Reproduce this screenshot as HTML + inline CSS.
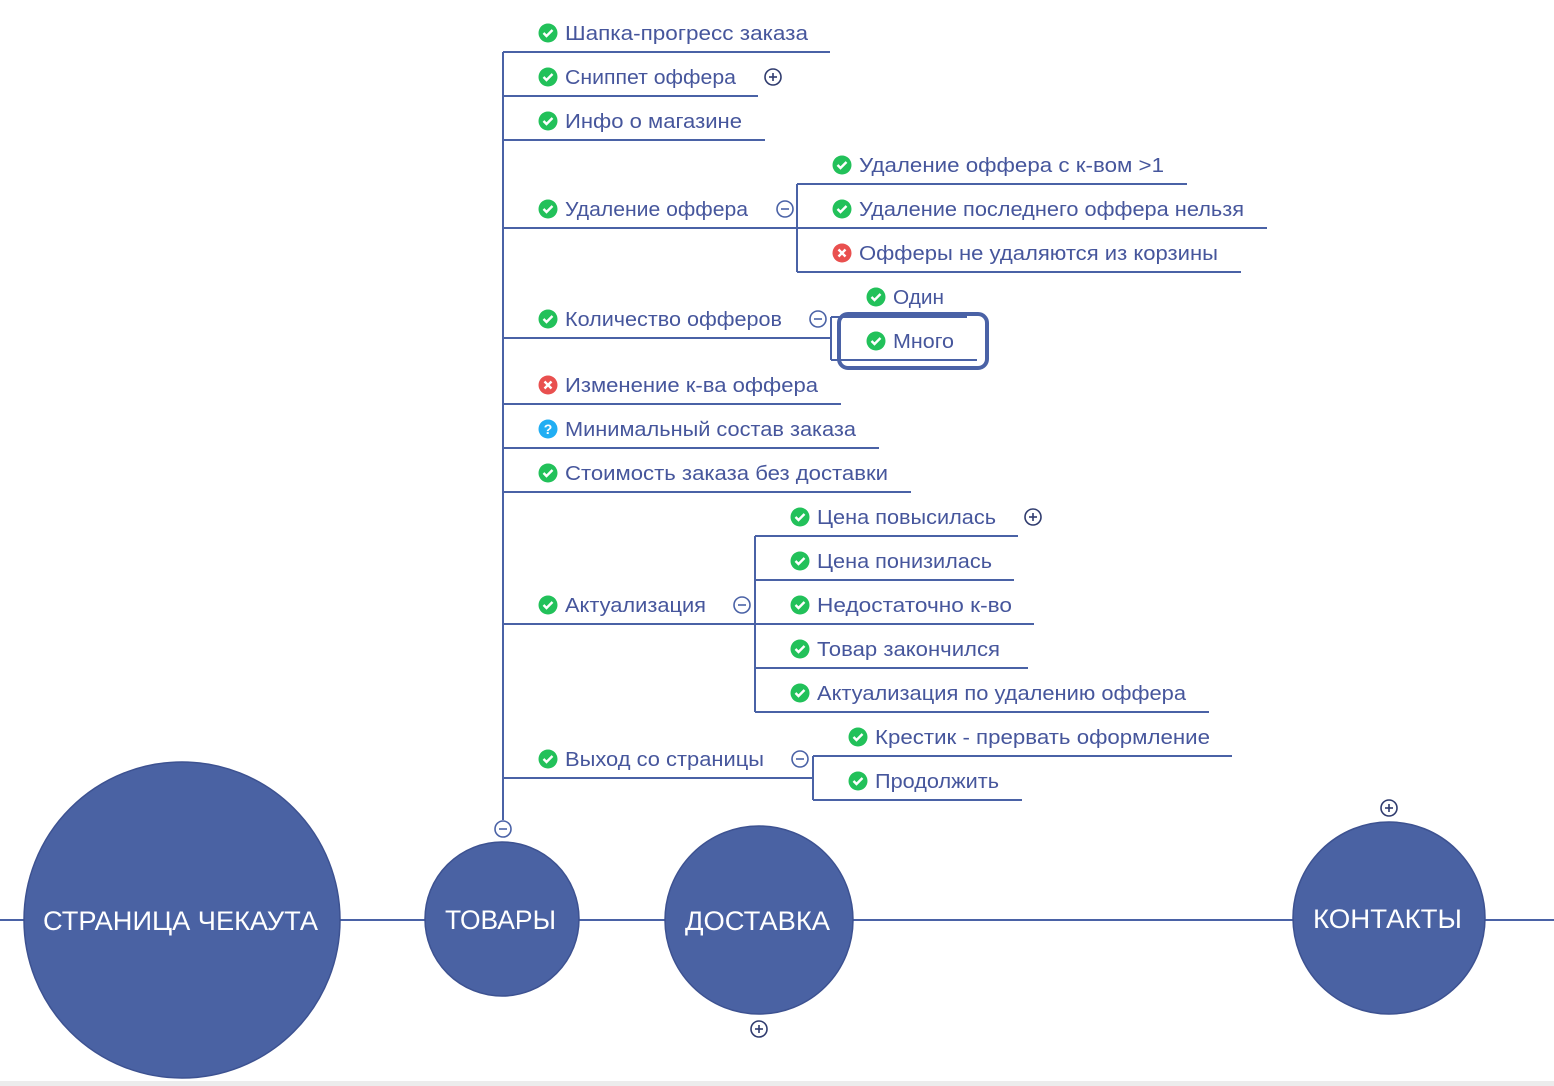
<!DOCTYPE html>
<html><head><meta charset="utf-8"><style>
html,body{margin:0;padding:0;background:#fff;width:1554px;height:1086px;overflow:hidden}
svg{display:block}
text{font-family:"Liberation Sans","DejaVu Sans",sans-serif}
</style></head><body>
<svg id="map" width="1554" height="1086" viewBox="0 0 1554 1086" xmlns="http://www.w3.org/2000/svg">
<rect x="0" y="1081" width="1554" height="5" fill="#ececec"/>
</svg>
<script>
const C='#4a62a6', T='#46569c';
// [label, status, iconX, centerY, textEnd, lineY, lineX0, lineX1, toggle]
const items=[
['Шапка-прогресс заказа','ok',548,33,808,52,503,830,null],
['Сниппет оффера','ok',548,77,736,96,503,758,['plus',773,77]],
['Инфо о магазине','ok',548,121,742,140,503,765,null],
['Удаление оффера','ok',548,209,748,228,503,797,['minus',785,209]],
['Удаление оффера с к-вом >1','ok',842,165,1164,184,797,1187,null],
['Удаление последнего оффера нельзя','ok',842,209,1244,228,797,1267,null],
['Офферы не удаляются из корзины','err',842,253,1218,272,797,1241,null],
['Количество офферов','ok',548,319,782,338,503,831,['minus',818,319]],
['Один','ok',876,297,944,317,831,967,null],
['Много','ok',876,341,954,360,831,977,null],
['Изменение к-ва оффера','err',548,385,818,404,503,841,null],
['Минимальный состав заказа','q',548,429,856,448,503,879,null],
['Стоимость заказа без доставки','ok',548,473,888,492,503,911,null],
['Цена повысилась','ok',800,517,996,536,755,1018,['plus',1033,517]],
['Цена понизилась','ok',800,561,992,580,755,1014,null],
['Недостаточно к-во','ok',800,605,1012,624,755,1034,null],
['Товар закончился','ok',800,649,1000,668,755,1028,null],
['Актуализация по удалению оффера','ok',800,693,1186,712,755,1209,null],
['Актуализация','ok',548,605,706,624,503,755,['minus',742,605]],
['Крестик - прервать оформление','ok',858,737,1210,756,813,1232,null],
['Продолжить','ok',858,781,999,800,813,1022,null],
['Выход со страницы','ok',548,759,764,778,503,813,['minus',800,759]]
];
// vertical connectors [x,y0,y1]
const vlines=[[503,52,820],[797,184,272],[831,317,360],[755,536,712],[813,756,800]];
// nodes [label, cx, cy, r, textX0, textX1, fontSize]
const nodes=[
['СТРАНИЦА ЧЕКАУТА',182,920,158,43,318,27],
['ТОВАРЫ',502,919,77,445,556,27],
['ДОСТАВКА',759,920,94,685,830,27],
['КОНТАКТЫ',1389,918,96,1313,1462,27]
];
const extraToggles=[['minus',503,829],['plus',759,1029],['plus',1389,808]];
const svg=document.getElementById('map');
const NS='http://www.w3.org/2000/svg';
function mk(tag,attrs){const e=document.createElementNS(NS,tag);for(const k in attrs)e.setAttribute(k,attrs[k]);svg.appendChild(e);return e;}
let e=mk('line',{x1:0,y1:920,x2:1554,y2:920,stroke:C,'stroke-width':2});


vlines.forEach(v=>{const l=mk('line',{x1:v[0],y1:v[1],x2:v[0],y2:v[2],stroke:C,'stroke-width':2});

});
function toggle(t){
 const g=mk('g',{});
 
 
 const c=document.createElementNS(NS,'circle');c.setAttribute('cx',t[1]);c.setAttribute('cy',t[2]);c.setAttribute('r',8);c.setAttribute('fill','#fff');c.setAttribute('stroke',t[0]=='plus'?'#2f3b6e':C);c.setAttribute('stroke-width',1.6);g.appendChild(c);
 const h=document.createElementNS(NS,'line');h.setAttribute('x1',t[1]-4);h.setAttribute('x2',t[1]+4);h.setAttribute('y1',t[2]);h.setAttribute('y2',t[2]);h.setAttribute('stroke',t[0]=='plus'?'#2f3b6e':C);h.setAttribute('stroke-width',1.6);g.appendChild(h);
 if(t[0]=='plus'){const v=document.createElementNS(NS,'line');v.setAttribute('x1',t[1]);v.setAttribute('x2',t[1]);v.setAttribute('y1',t[2]-4);v.setAttribute('y2',t[2]+4);v.setAttribute('stroke','#2f3b6e');v.setAttribute('stroke-width',1.6);g.appendChild(v);}
}
items.forEach(it=>{
 const [lab,st,ix,cy,te,ly,lx0,lx1,tg]=it;
 const g=mk('g',{});
 
 
 const ln=document.createElementNS(NS,'line');ln.setAttribute('x1',lx0);ln.setAttribute('x2',lx1);ln.setAttribute('y1',ly);ln.setAttribute('y2',ly);ln.setAttribute('stroke',C);ln.setAttribute('stroke-width',2);g.appendChild(ln);
 const col=st=='ok'?'#22c15a':st=='err'?'#e9504f':'#21aef3';
 const c=document.createElementNS(NS,'circle');c.setAttribute('cx',ix);c.setAttribute('cy',cy);c.setAttribute('r',9.5);c.setAttribute('fill',col);g.appendChild(c);
 const p=document.createElementNS(NS,'path');
 if(st=='ok')p.setAttribute('d',`M${ix-4.5} ${cy} l3 3 l6 -6`);
 else if(st=='err')p.setAttribute('d',`M${ix-3.5} ${cy-3.5} l7 7 M${ix+3.5} ${cy-3.5} l-7 7`);
 p.setAttribute('stroke','#fff');p.setAttribute('stroke-width',2.4);p.setAttribute('fill','none');g.appendChild(p);
 if(st=='q'){const q=document.createElementNS(NS,'text');q.setAttribute('x',ix);q.setAttribute('y',cy+5);q.setAttribute('text-anchor','middle');q.setAttribute('fill','#fff');q.setAttribute('font-size',14);q.setAttribute('font-weight','bold');q.textContent='?';g.appendChild(q);}
 const tx=document.createElementNS(NS,'text');const x0=ix+17;tx.setAttribute('x',x0);tx.setAttribute('y',cy+7);tx.setAttribute('fill',T);tx.setAttribute('font-size',20);tx.setAttribute('textLength',te-x0);tx.setAttribute('lengthAdjust','spacingAndGlyphs');tx.textContent=lab;g.appendChild(tx);
 if(tg)toggle(tg);
});
const hb=mk('rect',{x:839,y:314,width:148,height:54,rx:9,fill:'none',stroke:C,'stroke-width':4});


nodes.forEach(n=>{
 const g=mk('g',{});
 
 
 const c=document.createElementNS(NS,'circle');c.setAttribute('cx',n[1]);c.setAttribute('cy',n[2]);c.setAttribute('r',n[3]);c.setAttribute('fill','#4a62a3');c.setAttribute('stroke','#3d5291');c.setAttribute('stroke-width',1.5);g.appendChild(c);
 const t=document.createElementNS(NS,'text');t.setAttribute('x',n[4]);t.setAttribute('y',n[2]+10);t.setAttribute('fill','#fff');t.setAttribute('font-size',n[6]);t.setAttribute('textLength',n[5]-n[4]);t.setAttribute('lengthAdjust','spacingAndGlyphs');t.textContent=n[0];g.appendChild(t);
});
extraToggles.forEach(toggle);
</script>
</body></html>
